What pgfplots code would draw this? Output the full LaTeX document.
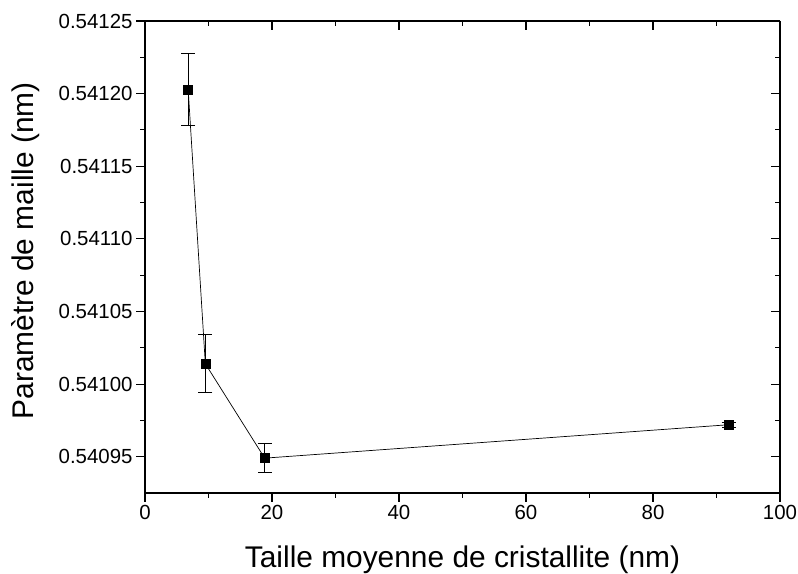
\documentclass[border=0pt]{standalone}
\usepackage{pgfplots}
\pgfplotsset{compat=1.18}
\usepackage{fontspec}
\setmainfont{Liberation Sans}
\begin{document}
\begin{tikzpicture}
\useasboundingbox (-145bp,-81bp) rectangle (653bp,493bp);
\pgfplotsset{
  common/.style={
    at={(0,0)}, anchor=south west,
    scale only axis, width=635bp, height=472bp,
    xmin=0, xmax=100, ymin=0.540925, ymax=0.54125,
    xtick={0,20,...,100}, minor x tick num=1,
    ytick={0.54095,0.541,0.54105,0.5411,0.54115,0.5412,0.54125},
    minor y tick num=1,
    scaled y ticks=false, scaled x ticks=false,
    axis line style={line width=1.2bp},
    major tick length=9bp, minor tick length=5bp,
    every tick/.style={black, line width=1.1bp},
  }
}
\begin{axis}[common,
  axis x line*=bottom, axis y line*=left, tick align=outside,
  axis line style={-, line width=1.2bp},
  /pgf/number format/assume math mode=true,
  yticklabel style={/pgf/number format/.cd, fixed, fixed zerofill, precision=5},
  tick label style={font=\fontsize{20.5}{24}\selectfont},
  xlabel={Taille moyenne de cristallite (nm)},
  ylabel={Paramètre de maille (nm)},
  label style={font=\fontsize{30}{36}\selectfont},
  xlabel style={at={(axis description cs:0.5,-0.157)}, anchor=base},
  ylabel style={at={(axis description cs:-0.1748,0.513)}, anchor=base, rotate=0},
]
\addplot[black, line width=0.7bp, mark=square*, mark size=4.5bp,
  mark options={solid, line width=0.5bp},
  error bars/.cd, y dir=both, y explicit,
  error bar style={line width=0.8bp},
  error mark options={rotate=90, mark size=7bp, line width=0.8bp}]
coordinates {
  (6.8, 0.541203) +- (0, 0.000025)
  (9.5, 0.541014) +- (0, 0.00002)
  (18.85, 0.540949) +- (0, 0.00001)
  (91.9, 0.540972) +- (0, 0.0000015)
};
\end{axis}
\begin{axis}[common,
  axis x line*=top, axis y line*=right, tick align=inside,
  axis line style={-, line width=1.2bp},
  xticklabels={}, yticklabels={},
]
\end{axis}
\end{tikzpicture}
\end{document}
